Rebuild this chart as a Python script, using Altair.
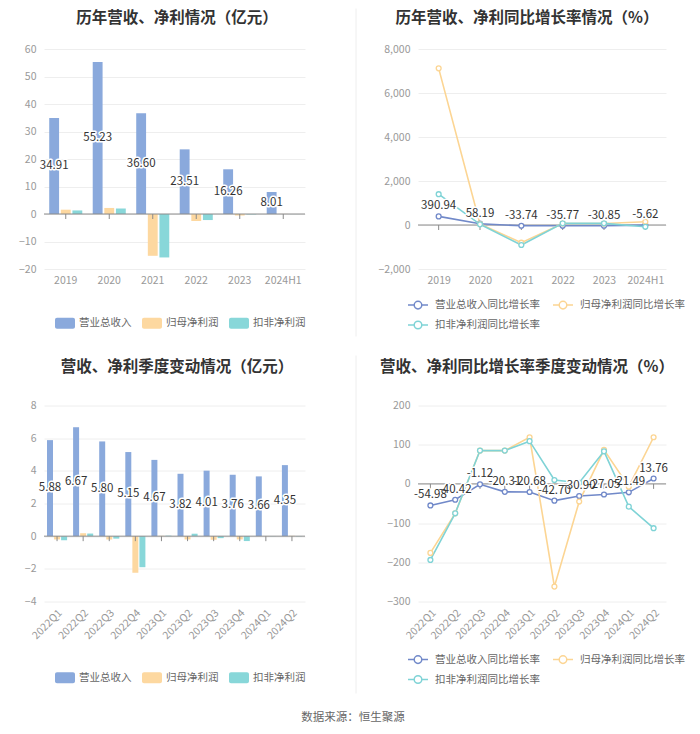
import altair as alt
import pandas as pd

FONT = "Noto Sans CJK SC"

# ---------------- data ----------------
years = ["2019", "2020", "2021", "2022", "2023", "2024H1"]
bar_series = ["营业总收入", "归母净利润", "扣非净利润"]
annual_revenue = [34.91, 55.23, 36.60, 23.51, 16.26, 8.01]
annual_np = [1.57, 2.2, -15.2, -2.55, -0.55, 0.03]
annual_kf = [1.3, 2.0, -15.8, -2.2, -0.15, -0.02]

line_series = ["营业总收入同比增长率", "归母净利润同比增长率", "扣非净利润同比增长率"]
annual_rev_g = [390.94, 58.19, -33.74, -35.77, -30.85, -5.62]
annual_np_g = [7120, 45, -805, 70, 65, 145]
annual_kf_g = [1400, 30, -910, 75, 75, -80]

quarters = ["2022Q1", "2022Q2", "2022Q3", "2022Q4", "2023Q1",
            "2023Q2", "2023Q3", "2023Q4", "2024Q1", "2024Q2"]
q_revenue = [5.88, 6.67, 5.80, 5.15, 4.67, 3.82, 4.01, 3.76, 3.66, 4.35]
q_np = [-0.2, 0.18, -0.2, -2.24, 0.02, -0.2, -0.22, -0.2, 0.01, 0.02]
q_kf = [-0.25, 0.16, -0.15, -1.9, 0.03, 0.15, -0.12, -0.3, 0.01, 0.01]

q_rev_g = [-54.98, -40.42, -1.12, -20.31, -20.68, -42.70, -30.90, -27.05, -21.49, 13.76]
q_np_g = [-176, -75, 85, 85, 119, -262, -45, 87, -7, 119]
q_kf_g = [-194, -75, 85, 85, 109, 10, 3, 83, -58, -113]

titles = ["历年营收、净利情况（亿元）", "历年营收、净利同比增长率情况（%）",
          "营收、净利季度变动情况（亿元）", "营收、净利同比增长率季度变动情况（%）"]
source_text = ["数据来源：恒生聚源"]

bar_colors = ["#8aa9dc", "#fdd8a0", "#88d7d9"]
line_colors = ["#7189c9", "#fcd593", "#7fd3d6"]

RECT = ("M-0.8,-0.55H0.8A0.2,0.2 0 0 1 1,-0.35V0.35A0.2,0.2 0 0 1 0.8,0.55"
        "H-0.8A0.2,0.2 0 0 1 -1,0.35V-0.35A0.2,0.2 0 0 1 -0.8,-0.55Z")
LINESYM = ("M-1,0H-0.38M0.38,0H1M0.38,0A0.38,0.38 0 1 1 -0.38,0"
           "A0.38,0.38 0 1 1 0.38,0Z")


def y_axis(vals, thousands=False):
    kw = dict(values=vals, title=None, grid=True, gridColor="#eeeeee", domain=False,
              ticks=False, labelColor="#999999", labelFontSize=10.5, labelPadding=8,
              labelFont=FONT)
    if thousands:
        kw["labelExpr"] = "format(datum.value, ',d')"
    return alt.Axis(**kw)


def x_axis(angle):
    return alt.Axis(title=None, domain=False, ticks=False, grid=False, labelAngle=angle,
                    labelColor="#999999", labelFontSize=10.5, labelPadding=6, labelFont=FONT)


def halo_text(chart_base, size=11.5, **kw):
    back = chart_base.mark_text(fontSize=size, font=FONT, color="white", stroke="white",
                                strokeWidth=3, strokeJoin="round", **kw)
    front = chart_base.mark_text(fontSize=size, font=FONT, color="#333333", **kw)
    return back, front


def title_mark(text, px, py):
    return alt.Chart(pd.DataFrame({"t": [text]})).mark_text(
        fontSize=15.5, fontWeight="bold", color="#333333", font=FONT, align="center",
        baseline="middle").encode(x=alt.value(px), y=alt.value(py), text="t:N")


def separator(x, y1, y2):
    return alt.Chart(pd.DataFrame({"v": [0]})).mark_rule(color="#eeeeee", strokeWidth=1).encode(
        x=alt.value(x), y=alt.value(y1), y2=alt.value(y2))


def bar_panel(cats, rev, np_, kf, w, h, ydom, yvals, angle, pin, lx, ly, extras):
    df = pd.DataFrame({
        "cat": cats * 3,
        "series": [s for s in bar_series for _ in cats],
        "value": rev + np_ + kf,
    })
    lab = pd.DataFrame({"cat": cats, "series": [bar_series[0]] * len(cats), "value": rev,
                        "label": [f"{v:.2f}" for v in rev]})
    xsc = alt.Scale(domain=cats, paddingInner=pin, paddingOuter=pin / 2)
    xoff_sc = alt.Scale(domain=bar_series, paddingInner=0.15, paddingOuter=0)
    ysc = alt.Scale(domain=ydom, nice=False, zero=False)
    xax = x_axis(angle)
    yax = y_axis(yvals)

    bars = alt.Chart(df).mark_bar().encode(
        x=alt.X("cat:N", sort=cats, scale=xsc, axis=xax),
        y=alt.Y("value:Q", scale=ysc, axis=yax),
        xOffset=alt.XOffset("series:N", sort=bar_series, scale=xoff_sc),
        color=alt.Color("series:N", sort=bar_series,
                        scale=alt.Scale(domain=bar_series, range=bar_colors),
                        legend=alt.Legend(title=None, orient="none", legendX=lx, legendY=ly,
                                          direction="horizontal", columns=3,
                                          symbolType=RECT, symbolSize=400,
                                          symbolStrokeWidth=0, labelFontSize=10.5,
                                          labelColor="#666666", labelFont=FONT,
                                          labelOffset=4, columnPadding=10)),
    )
    zdf = pd.DataFrame({"cat": cats, "value": [0] * len(cats)})
    zero = alt.Chart(zdf.head(1)).mark_rule(color="#8a8a8a", strokeWidth=1).encode(
        y=alt.Y("value:Q", axis=yax))
    ticks = alt.Chart(zdf).mark_rule(color="#8a8a8a", strokeWidth=1, y2Offset=5).encode(
        x=alt.X("cat:N", sort=cats, bandPosition=0.5, axis=xax),
        y=alt.Y("value:Q", axis=yax), y2="value:Q")
    base = alt.Chart(lab).transform_calculate(mid="datum.value / 2").encode(
        x=alt.X("cat:N", sort=cats, axis=xax),
        xOffset=alt.XOffset("series:N", sort=bar_series),
        y=alt.Y("mid:Q", axis=yax),
        text="label:N")
    back, front = halo_text(base, baseline="middle")
    return alt.layer(bars, zero, ticks, back, front, *extras).properties(width=w, height=h)


def line_panel(cats, rg, ng, kg, w, h, ydom, yvals, angle, lx, ly, extras, thousands=False):
    df = pd.DataFrame({
        "cat": cats * 3,
        "series": [s for s in line_series for _ in cats],
        "value": rg + ng + kg,
    })
    lab = pd.DataFrame({"cat": cats, "value": rg, "label": [f"{v:.2f}" for v in rg]})
    xsc = alt.Scale(type="point", domain=cats, padding=0.5)
    ysc = alt.Scale(domain=ydom, nice=False, zero=False)
    xax = x_axis(angle)
    yax = y_axis(yvals, thousands)
    stroke = alt.Stroke("series:N", sort=line_series,
                        scale=alt.Scale(domain=line_series, range=line_colors),
                        legend=alt.Legend(title=None, orient="none", legendX=lx, legendY=ly,
                                          direction="horizontal", columns=2,
                                          symbolType=LINESYM, symbolSize=400,
                                          symbolStrokeWidth=1.5, symbolFillColor="white",
                                          labelFontSize=10.5, labelColor="#666666",
                                          labelFont=FONT, labelOffset=6, columnPadding=10,
                                          rowPadding=2))
    x = alt.X("cat:N", sort=cats, scale=xsc, axis=xax)
    y = alt.Y("value:Q", scale=ysc, axis=yax)
    zdf = pd.DataFrame({"cat": cats, "value": [0] * len(cats)})
    zero = alt.Chart(zdf.head(1)).mark_rule(color="#8a8a8a", strokeWidth=1).encode(
        y=alt.Y("value:Q", axis=yax))
    ticks = alt.Chart(zdf).mark_rule(color="#8a8a8a", strokeWidth=1, y2Offset=5).encode(
        x=alt.X("cat:N", sort=cats, axis=xax), y=alt.Y("value:Q", axis=yax), y2="value:Q")
    lines = alt.Chart(df).mark_line(strokeWidth=1.6).encode(x=x, y=y, stroke=stroke)
    pts = alt.Chart(df).mark_point(shape="circle", filled=True, fill="white", size=24,
                                   strokeWidth=1.3, opacity=1).encode(
        x=alt.X("cat:N", sort=cats, axis=xax), y=alt.Y("value:Q", axis=yax), stroke=stroke)
    base = alt.Chart(lab).encode(x=alt.X("cat:N", sort=cats, axis=xax),
                                 y=alt.Y("value:Q", axis=yax), text="label:N")
    back, front = halo_text(base, baseline="bottom", dy=-5)
    return alt.layer(zero, ticks, lines, pts, back, front, *extras).properties(width=w, height=h)


W1, W2 = 261, 248
H1, H2 = 220, 196
tl = bar_panel(years, annual_revenue, annual_np, annual_kf, W1, H1, [-20, 60],
               list(range(-20, 61, 10)), 0, 0.24, 11, 264,
               [title_mark(titles[0], 133, -31)])
tr = line_panel(years, annual_rev_g, annual_np_g, annual_kf_g, W2, H1, [-2000, 8000],
                list(range(-2000, 8001, 2000)), 0, -11, 245,
                [title_mark(titles[1], 109, -31), separator(-62, -40.5, 287.5)],
                thousands=True)
bl = bar_panel(quarters, q_revenue, q_np, q_kf, W1, H2, [-4, 8], list(range(-4, 9, 2)),
               -45, 0.23, 11, 262,
               [title_mark(titles[2], 133, -39),
                alt.Chart(pd.DataFrame({"t": source_text})).mark_text(
                    fontSize=11.5, color="#666666", font=FONT, align="center",
                    baseline="middle").encode(x=alt.value(309), y=alt.value(312), text="t:N")])
br = line_panel(quarters, q_rev_g, q_np_g, q_kf_g, W2, H2, [-300, 200],
                list(range(-300, 201, 100)), -45, -11, 243,
                [title_mark(titles[3], 109, -39), separator(-62, -50, 288)])

chart = alt.concat(tl, tr, bl, br, columns=2, spacing={"row": 136.5, "column": 113},
                   bounds="flush").resolve_scale(
    x="independent", y="independent", color="independent", stroke="independent",
    xOffset="independent").properties(
    padding={"top": 0, "left": 10, "right": 5, "bottom": 5},
).configure(font=FONT, background="white").configure_view(stroke=None)

chart.save("out.html", embed_options={"renderer": "svg", "actions": False})
